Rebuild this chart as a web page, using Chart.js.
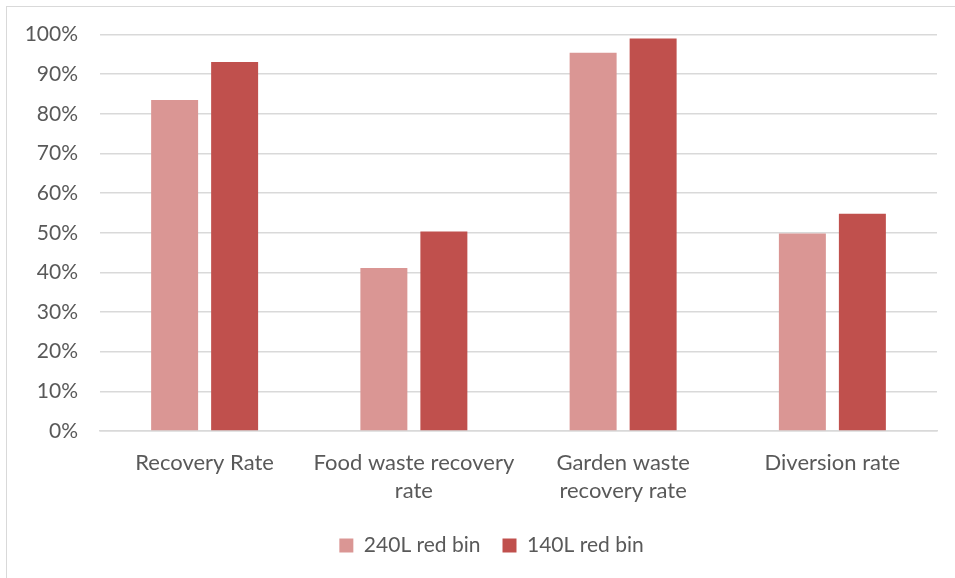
<!DOCTYPE html>
<html>
<head>
<meta charset="utf-8">
<script src="https://cdn.jsdelivr.net/npm/chart.js@4"></script>
<style>
  html, body { margin: 0; padding: 0; background: #fff; overflow: hidden; }
  #wrap { position: relative; width: 955px; height: 578px; }
  #frame { position: absolute; left: 6px; top: 6px; width: 1000px; height: 1000px; border: 1.5px solid #d9d9d9; }
  #chart { position: absolute; left: 0; top: 0; }
</style>
</head>
<body>
<div id="wrap">
  <div id="frame"></div>
  <canvas id="chart" width="955" height="578"></canvas>
</div>
<script>
// categorieen en waarden (in %)
const categories = [
  'Recovery Rate',
  ['Food waste recovery', 'rate'],
  ['Garden waste', 'recovery rate'],
  'Diversion rate'
];
const bin240 = [83.5, 41.1, 95.4, 49.8];
const bin140 = [93.1, 50.3, 99.0, 54.8];
const yTicks = [0, 10, 20, 30, 40, 50, 60, 70, 80, 90, 100];

const ctx = document.querySelector('#chart').getContext('2d');
Chart.defaults.font.family = 'Lato, "Open Sans", sans-serif';
Chart.defaults.color = '#595959';

// legenda iets naar rechts schuiven, zoals in het origineel
const legendShift = {
  id: 'legendShift',
  afterLayout(chart) {
    chart.legend.left += 46;
  }
};

new Chart(ctx, {
  type: 'bar',
  data: {
    labels: categories,
    datasets: [
      { label: '240L red bin', data: bin240, backgroundColor: '#da9694' },
      { label: '140L red bin', data: bin140, backgroundColor: '#c0504d' }
    ]
  },
  options: {
    responsive: false,
    animation: false,
    categoryPercentage: 0.5735,
    barPercentage: 0.783,
    layout: { padding: { left: 0, right: 18, top: 30, bottom: 12 } },
    plugins: {
      tooltip: { enabled: false },
      legend: {
        position: 'bottom',
        labels: { boxWidth: 14, boxHeight: 14, padding: 22, font: { size: 21 } }
      }
    },
    scales: {
      x: {
        grid: { display: false },
        border: { color: '#d9d9d9', width: 1.5 },
        ticks: { font: { size: 22, lineHeight: 1.27 }, padding: 10, maxRotation: 0, autoSkip: false },
        afterFit: (scale) => { scale.height = 82; }
      },
      y: {
        min: 0,
        max: 100,
        afterBuildTicks: (scale) => { scale.ticks = yTicks.map(v => ({ value: v })); },
        grid: { color: '#d9d9d9', lineWidth: 1.5, drawTicks: false },
        border: { display: false },
        ticks: { font: { size: 21 }, padding: 22, callback: (v) => v + '%' },
        afterFit: (scale) => { scale.width = 100; }
      }
    }
  },
  plugins: [legendShift]
});
</script>
</body>
</html>
